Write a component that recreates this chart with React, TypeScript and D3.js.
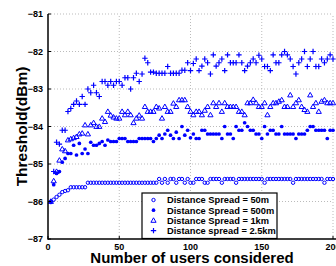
import React from "react";
import * as d3 from "d3";

const USERS = [
  2, 4, 6, 8, 10, 12, 14, 16, 18, 20,
  22, 24, 26, 28, 30, 32, 34, 36, 38, 40,
  42, 44, 46, 48, 50, 52, 54, 56, 58, 60,
  62, 64, 66, 68, 70, 72, 74, 76, 78, 80,
  82, 84, 86, 88, 90, 92, 94, 96, 98, 100,
  102, 104, 106, 108, 110, 112, 114, 116, 118, 120,
  122, 124, 126, 128, 130, 132, 134, 136, 138, 140,
  142, 144, 146, 148, 150, 152, 154, 156, 158, 160,
  162, 164, 166, 168, 170, 172, 174, 176, 178, 180,
  182, 184, 186, 188, 190, 192, 194, 196, 198, 200,
];

const SPREAD_50M = [
  -86.0, -85.95, -85.88, -85.82, -85.75, -85.72, -85.7, -85.62, -85.62, -85.62,
  -85.62, -85.62, -85.62, -85.5, -85.5, -85.5, -85.5, -85.5, -85.5, -85.5,
  -85.5, -85.5, -85.5, -85.5, -85.5, -85.5, -85.5, -85.5, -85.5, -85.5,
  -85.5, -85.5, -85.5, -85.5, -85.5, -85.5, -85.5, -85.5, -85.4, -85.5,
  -85.4, -85.5, -85.4, -85.4, -85.5, -85.4, -85.4, -85.5, -85.4, -85.5,
  -85.5, -85.4, -85.4, -85.4, -85.5, -85.5, -85.4, -85.4, -85.4, -85.4,
  -85.5, -85.4, -85.4, -85.4, -85.4, -85.5, -85.4, -85.4, -85.4, -85.4,
  -85.4, -85.4, -85.4, -85.4, -85.4, -85.5, -85.4, -85.4, -85.4, -85.4,
  -85.4, -85.4, -85.4, -85.4, -85.4, -85.5, -85.4, -85.4, -85.4, -85.4,
  -85.4, -85.4, -85.4, -85.4, -85.4, -85.4, -85.5, -85.4, -85.4, -85.4,
];

const SPREAD_500M = [
  -86.0, -85.55, -85.25, -85.2, -84.95, -84.85, -84.72, -84.72, -84.5, -84.76,
  -84.45, -84.72, -84.6, -84.72, -84.42, -84.5, -84.5, -84.45, -84.4, -84.5,
  -84.36, -84.4, -84.4, -84.4, -84.32, -84.32, -84.32, -84.4, -84.4, -84.4,
  -84.4, -84.32, -84.32, -84.32, -84.32, -84.32, -84.4, -84.32, -84.23, -84.32,
  -84.2, -84.1, -84.23, -84.32, -84.15, -84.32, -84.0, -84.23, -84.1, -84.3,
  -84.2, -84.32, -84.32, -84.1, -84.1, -84.2, -84.2, -84.2, -84.2, -84.2,
  -84.32, -84.0, -84.2, -84.2, -84.32, -84.0, -84.1, -84.1, -83.9, -84.0,
  -84.1, -84.1, -84.2, -84.2, -84.32, -84.0, -84.2, -84.1, -84.1, -84.2,
  -84.2, -84.0, -84.2, -84.2, -84.2, -84.2, -84.32, -84.2, -84.2, -84.2,
  -84.1, -84.0, -84.0, -84.1, -84.1, -84.1, -84.1, -84.32, -84.1, -84.1,
];

const SPREAD_1KM = [
  -86.0, -85.45, -85.2, -84.9, -84.6, -84.65, -84.36, -84.33, -84.3, -84.27,
  -84.2, -84.18, -83.96, -84.2, -83.96, -83.9, -84.0, -84.0, -83.78, -83.87,
  -83.6, -83.7, -83.75, -83.78, -83.78, -83.6, -83.69, -83.6, -83.69, -83.9,
  -83.78, -83.7, -83.78, -83.47, -83.6, -83.6, -83.6, -83.47, -83.51, -83.78,
  -83.47, -83.6, -83.6, -83.38, -83.47, -83.29, -83.29, -83.29, -83.47, -83.6,
  -83.69, -83.6, -83.6, -83.69, -83.57, -83.47, -83.69, -83.37, -83.47, -83.37,
  -83.6, -83.37, -83.47, -83.47, -83.47, -83.47, -83.6, -83.6, -83.69, -83.37,
  -83.37, -83.28, -83.37, -83.47, -83.47, -83.37, -83.69, -83.47, -83.37, -83.37,
  -83.33, -83.29, -83.47, -83.47, -83.16, -83.47, -83.37, -83.29, -83.47, -83.55,
  -83.6, -83.16, -83.47, -83.37, -83.6, -83.33, -83.29, -83.37, -83.37, -83.37,
];

const SPREAD_2_5KM = [
  -86.0, -85.2, -84.42, -84.47, -84.1, -84.1, -83.6, -83.52, -83.41, -83.32,
  -83.41, -83.2, -83.41, -83.0, -83.1, -82.9, -83.1, -83.2, -82.8, -82.8,
  -82.9, -82.8, -82.9, -82.8, -82.8, -82.9, -82.7, -82.7, -83.0, -82.7,
  -82.58, -82.8, -82.6, -82.18, -82.3, -82.55, -82.55, -82.58, -82.58, -82.58,
  -82.58, -82.4, -82.58, -82.58, -82.58, -82.58, -82.5, -82.5, -82.3, -82.51,
  -82.32, -82.2, -82.51, -82.39, -82.2, -82.3, -82.6, -82.09, -82.39, -82.3,
  -82.2, -82.51, -82.09, -82.3, -82.3, -82.3, -82.09, -82.3, -82.51, -82.39,
  -82.3, -82.2, -82.3, -82.1, -82.2, -82.4, -82.4, -82.51, -82.09, -82.3,
  -82.3, -82.09, -82.0, -82.09, -82.2, -82.4, -82.6, -82.3, -82.2, -82.0,
  -82.4, -82.2, -82.0, -82.4, -82.4, -82.2, -82.3, -82.2, -82.09, -82.2,
];

const X_TICKS = [0, 50, 100, 150, 200];
const Y_TICKS = [-87, -86, -85, -84, -83, -82, -81];
const LEGEND_LABELS = [
  "Distance Spread = 50m",
  "Distance Spread = 500m",
  "Distance Spread = 1km",
  "Distance spread = 2.5km",
];

const BLUE = "#0000ff";
const FONT = "'Liberation Sans', Arial, Helvetica, sans-serif";

type Kind = "circle" | "dot" | "triangle" | "plus";

function Marker({ kind, x, y }: { kind: Kind; x: number; y: number }) {
  if (kind === "circle")
    return <circle cx={x} cy={y} r={1.7} fill="none" stroke={BLUE} strokeWidth={1} />;
  if (kind === "dot") return <circle cx={x} cy={y} r={1.85} fill={BLUE} />;
  if (kind === "triangle")
    return (
      <path
        d={`M${x},${y - 2.6}L${x - 2.6},${y + 1.9}L${x + 2.6},${y + 1.9}Z`}
        fill="none"
        stroke={BLUE}
        strokeWidth={1}
      />
    );
  return (
    <path
      d={`M${x - 2.7},${y}H${x + 2.7}M${x},${y - 2.7}V${y + 2.7}`}
      stroke={BLUE}
      strokeWidth={1.2}
    />
  );
}

export default function App() {
  const W = 336;
  const H = 266;
  const x = d3.scaleLinear().domain([0, 200]).range([48, 333]);
  const y = d3.scaleLinear().domain([-87, -81]).range([239, 14]);
  const [x0, x1] = x.range();
  const [y0, y1] = y.range();

  const series: { kind: Kind; values: number[] }[] = [
    { kind: "circle", values: SPREAD_50M },
    { kind: "dot", values: SPREAD_500M },
    { kind: "triangle", values: SPREAD_1KM },
    { kind: "plus", values: SPREAD_2_5KM },
  ];
  const kinds: Kind[] = ["circle", "dot", "triangle", "plus"];

  const fmt = (v: number) => (v < 0 ? "\u2212" + Math.abs(v) : String(v));

  return (
    <svg
      width={W}
      height={H}
      style={{ position: "absolute", left: 0, top: 0, background: "#fff" }}
      fontFamily={FONT}
    >
      <rect x={0} y={0} width={W} height={H} fill="#fff" />
      {/* grid */}
      {X_TICKS.filter((t) => t > 0).map((t) => (
        <line
          key={"gx" + t}
          x1={x(t)}
          x2={x(t)}
          y1={y0}
          y2={y1}
          stroke="#aaa"
          strokeWidth={0.8}
          strokeDasharray="1 2"
        />
      ))}
      {Y_TICKS.filter((t) => t > -87).map((t) => (
        <line
          key={"gy" + t}
          x1={x0}
          x2={x1}
          y1={y(t)}
          y2={y(t)}
          stroke="#aaa"
          strokeWidth={0.8}
          strokeDasharray="1 2"
        />
      ))}
      {/* data */}
      {series.map((s) =>
        s.values.map((v, i) => (
          <Marker key={s.kind + i} kind={s.kind} x={x(USERS[i])} y={y(v)} />
        ))
      )}
      {/* axes */}
      <line x1={x0} x2={x0} y1={y0 + 0.75} y2={y1} stroke="#000" strokeWidth={1.5} />
      <line x1={x0} x2={x1 + 3} y1={y0} y2={y0} stroke="#000" strokeWidth={1.5} />
      {Y_TICKS.map((t) => (
        <g key={"ty" + t}>
          <line x1={x0} x2={x0 + 3} y1={y(t)} y2={y(t)} stroke="#000" strokeWidth={1} />
          <text
            x={x0 - 5}
            y={y(t) + 3}
            textAnchor="end"
            fontSize={9}
            fontWeight="bold"
          >
            {fmt(t)}
          </text>
        </g>
      ))}
      {X_TICKS.map((t) => (
        <g key={"tx" + t}>
          <line x1={x(t)} x2={x(t)} y1={y0} y2={y0 - 3} stroke="#000" strokeWidth={1} />
          <text x={x(t)} y={y0 + 11} textAnchor="middle" fontSize={9} fontWeight="bold">
            {t}
          </text>
        </g>
      ))}
      {/* axis labels */}
      <text
        x={192}
        y={263}
        textAnchor="middle"
        fontSize={15}
        fontWeight="bold"
      >
        Number of users considered
      </text>
      <text
        transform={`translate(27,${(y0 + y1) / 2}) rotate(-90)`}
        textAnchor="middle"
        fontSize={15.5}
        fontWeight="bold"
      >
        Threshold(dBm)
      </text>
      {/* legend */}
      <rect x={142} y={193} width={135} height={45.5} fill="#fff" stroke="#000" strokeWidth={1.2} />
      {LEGEND_LABELS.map((label, i) => {
        const ly = 200 + i * 10.2;
        return (
          <g key={label}>
            <Marker kind={kinds[i]} x={153.5} y={ly} />
            <text x={167} y={ly + 3.3} fontSize={9.3} fontWeight="bold">
              {label}
            </text>
          </g>
        );
      })}
    </svg>
  );
}
